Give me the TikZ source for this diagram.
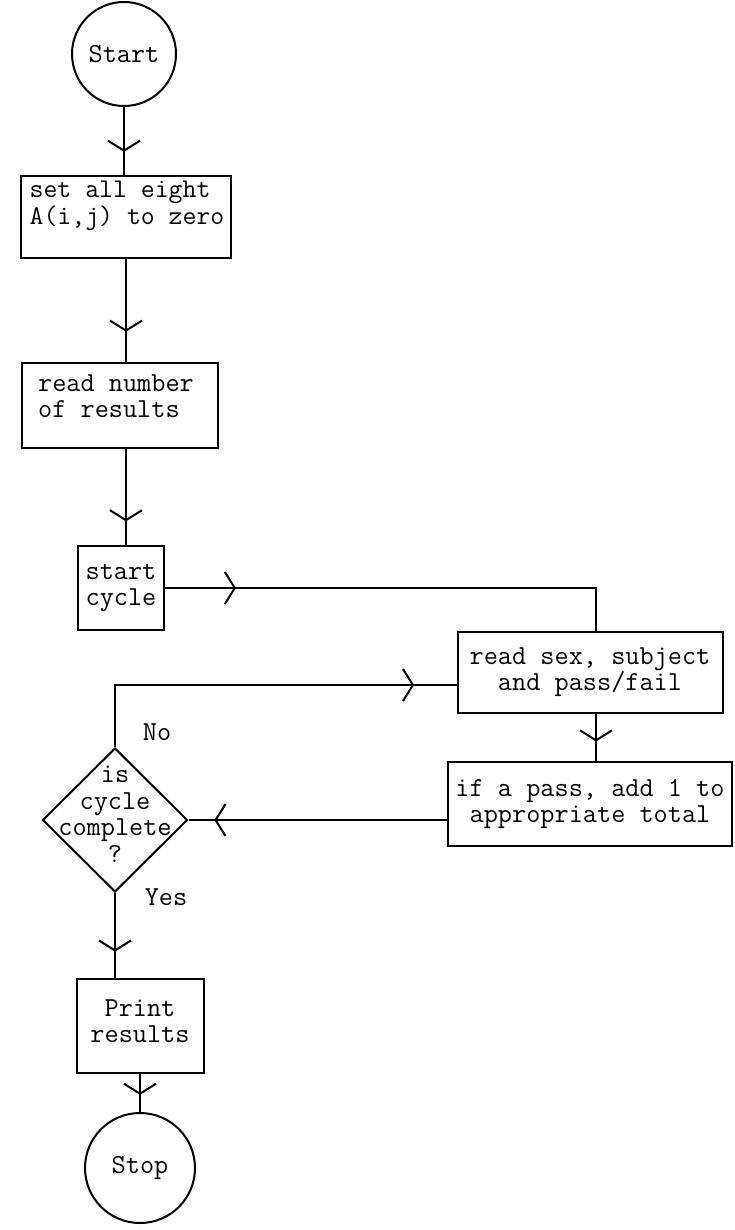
\documentclass[tikz,border=0pt]{standalone}
\usetikzlibrary{arrows.meta,decorations.markings,shapes.geometric}
\begin{document}
\begin{tikzpicture}[x=1pt,y=-1pt,
  every node/.style={font=\ttfamily\fontsize{27.5}{26.5}\selectfont},
  box/.style={draw,line width=2pt,rectangle,inner sep=0pt},
  term/.style={draw,circle,line width=2pt,inner sep=0pt},
  conn/.style={line width=2pt},
  V/.style={postaction={decorate},decoration={markings,mark=at position #1 with {\arrow{Straight Barb[length=10pt,width=32pt]}}}}
]
\useasboundingbox (0,0) rectangle (734,1230);
\node[term,minimum size=104pt] (start) at (124,54) {Start};
\node[box,minimum width=210pt,minimum height=82pt] (b1) at (126,217) {};
\node[align=left,font=\ttfamily\fontsize{27}{26.5}\selectfont] (b1t) at (127,206) {set all eight\\A(i,j) to zero};
\node[box,minimum width=196pt,minimum height=85pt] (b2) at (120,405) {};
\node[align=left] (b2t) at (116,396) {read number\\of results};
\node[box,minimum width=86pt,minimum height=84pt,align=left] (b3) at (121,588) {start\\cycle};
\node[box,minimum width=265pt,minimum height=81pt,align=center] (b4) at (590,672) {read sex, subject\\and pass/fail};
\node[box,minimum width=284pt,minimum height=84pt,align=center] (b5) at (590,804) {if a pass, add 1 to\\appropriate total};
\node[draw,diamond,line width=2pt,minimum width=145pt,minimum height=144pt,inner sep=0pt] (d) at (115,820) {};
\node[align=center] (dt) at (115,814) {is\\cycle\\complete\\?};
\node[box,minimum width=127pt,minimum height=94pt] (pr) at (140,1026) {};
\node[align=center] (prt) at (140,1021) {Print\\results};
\node[term,minimum size=110pt] (stop) at (140,1168) {Stop};
\node (no) at (157,732) {No};
\node (yes) at (166,897) {Yes};

\draw[conn,V=0.66] (start.south) -- (start.south |- b1.north);
\draw[conn,V=0.71] (b1.south) -- (b1.south |- b2.north);
\draw[conn,V=0.755] ([xshift=6pt]b2.south) -- ([xshift=6pt]b2.south |- b3.north);
\draw[conn,V=0.15] (b3.east) -| ([xshift=6pt]b4.north);
\draw[conn,V=0.895] (d.north) |- ([yshift=-13pt]b4.west);
\draw[conn,V=0.59] ([xshift=6pt]b4.south) -- ([xshift=6pt]b4.south |- b5.north);
\draw[conn,V=0.9] (d.east -| b5.west) -- (d.east);
\draw[conn,V=0.69] (d.south) -- (d.south |- pr.north);
\draw[conn,V=0.55] (stop.north |- pr.south) -- (stop.north);
\end{tikzpicture}
\end{document}
